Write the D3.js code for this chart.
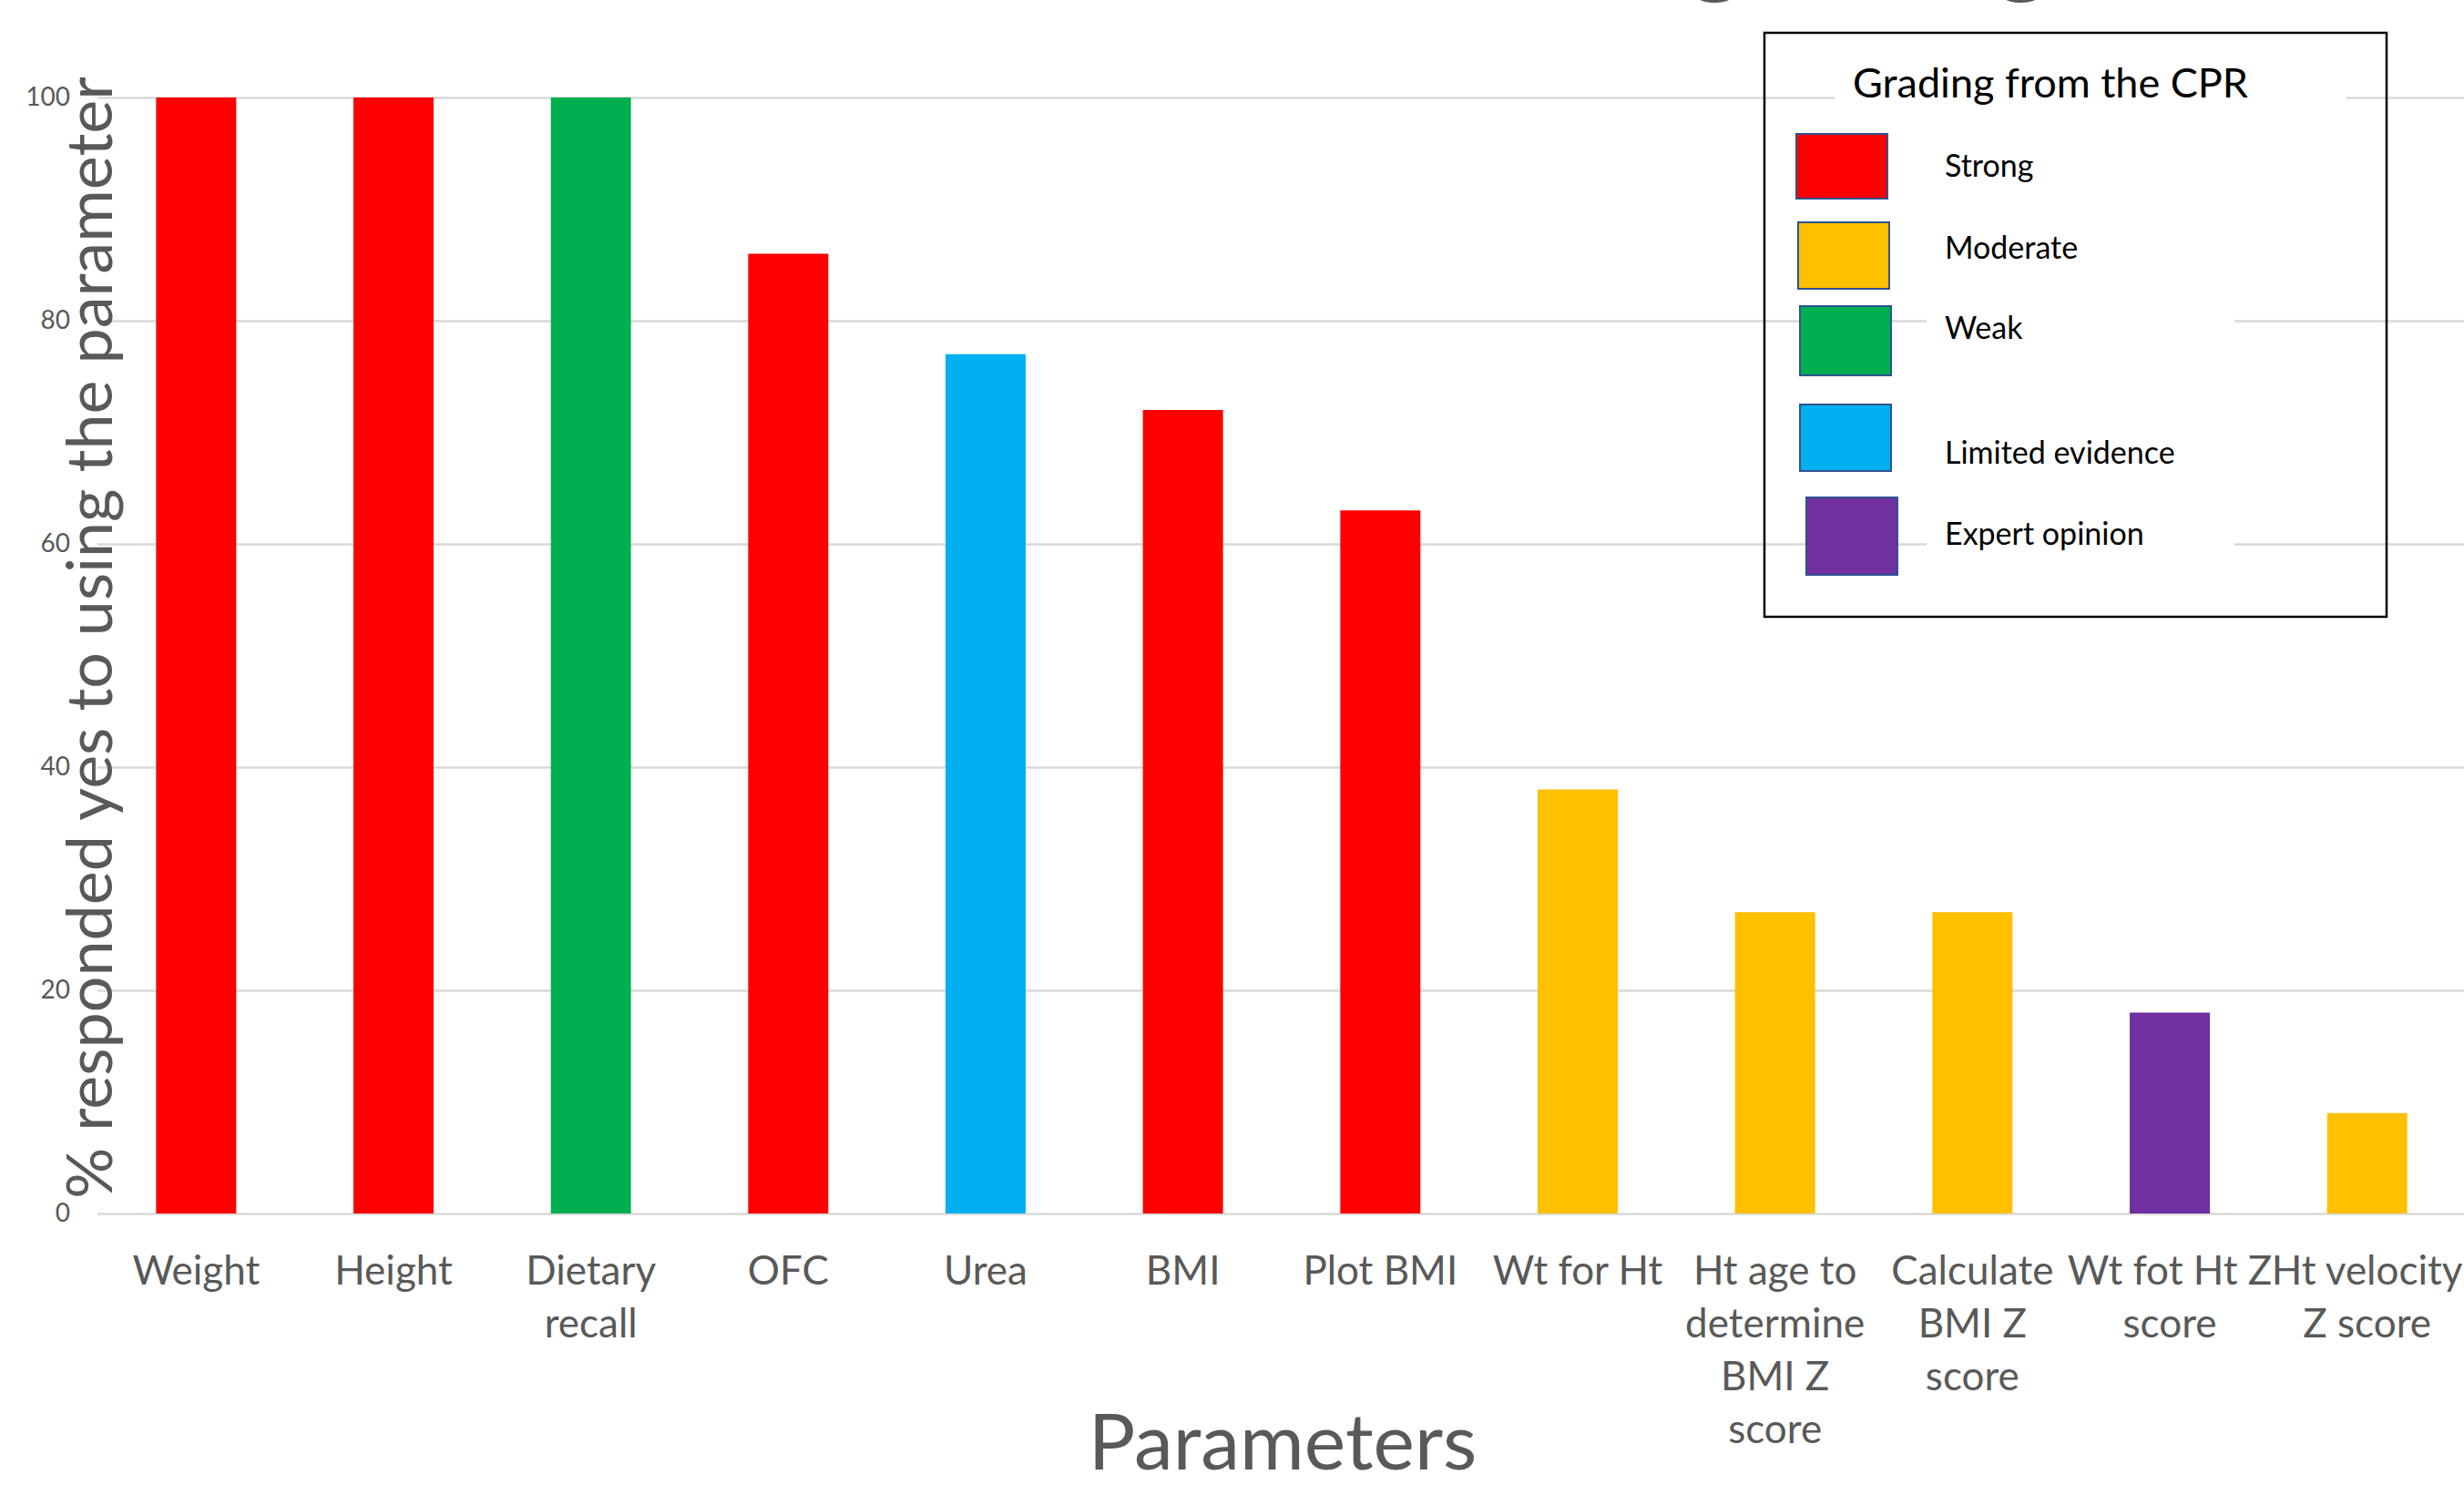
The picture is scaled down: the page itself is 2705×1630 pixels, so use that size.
<!DOCTYPE html>
<html>
<head>
<meta charset="utf-8">
<script src="https://cdn.jsdelivr.net/npm/d3@7"></script>
<style>
  body { margin: 0; background: #fff; overflow: hidden; }
  text { font-family: Lato, "Noto Sans", sans-serif; }
</style>
</head>
<body>
<div id="chart"></div>
<script>
// chart data
var categories = ["Weight", "Height", "Dietary recall", "OFC", "Urea", "BMI", "Plot BMI",
  "Wt for Ht", "Ht age to determine BMI Z score", "Calculate BMI Z score",
  "Wt fot Ht Z score", "Ht velocity Z score"];
var tickLabels = [["Weight"], ["Height"], ["Dietary", "recall"], ["OFC"], ["Urea"], ["BMI"],
  ["Plot BMI"], ["Wt for Ht"], ["Ht age to", "determine", "BMI Z", "score"],
  ["Calculate", "BMI Z", "score"], ["Wt fot Ht Z", "score"], ["Ht velocity", "Z score"]];
var values = [100, 100, 100, 86, 77, 72, 63, 38, 27, 27, 18, 9];
var grades = ["Strong", "Strong", "Weak", "Strong", "Limited evidence", "Strong", "Strong",
  "Moderate", "Moderate", "Moderate", "Expert opinion", "Moderate"];
var gradeNames = ["Strong", "Moderate", "Weak", "Limited evidence", "Expert opinion"];
var gradeColors = ["#FF0000", "#FFC000", "#00B050", "#00B0F0", "#7030A0"];
var yTicks = [0, 20, 40, 60, 80, 100];

var W = 2705, H = 1630;
var margin = {top: 107, right: -2, bottom: 298, left: 107};
var width = W - margin.left - margin.right,
    height = H - margin.top - margin.bottom;

var svg = d3.select("#chart")
  .append("svg")
    .attr("width", W)
    .attr("height", H);

var g = svg.append("g")
    .attr("transform", "translate(" + margin.left + "," + margin.top + ")");

var color = d3.scaleOrdinal().domain(gradeNames).range(gradeColors);

// title sits above the picture, only the descenders of "grading" show
var title = svg.append("text")
  .attr("fill", "#595959")
  .style("font-size", "100px")
  .text("grading");
var node = title.node();
var gap = node.getStartPositionOfChar(6).x - node.getStartPositionOfChar(0).x;
var fs = 100 * 336 / gap;
title.style("font-size", fs + "px")
  .attr("x", 1852)
  .attr("y", -19);

// y scale + gridlines
var y = d3.scaleLinear().domain([0, 100]).range([height, 0]);
var yAxis = g.append("g")
  .call(d3.axisLeft(y).tickValues(yTicks).tickSize(-width).tickPadding(30));
yAxis.select(".domain").remove();
yAxis.selectAll("line").attr("stroke", "#D9D9D9").attr("stroke-width", 2.5);
yAxis.selectAll("text")
  .attr("fill", "#595959")
  .style("font-size", "28px");

// x scale
var x = d3.scaleBand()
  .domain(categories)
  .range([0, width])
  .paddingInner(0.594)
  .paddingOuter(0.297);

var xAxis = g.append("g")
  .attr("transform", "translate(0," + height + ")")
  .call(d3.axisBottom(x).tickSize(0).tickFormat(""));
xAxis.select(".domain").remove();
xAxis.selectAll(".tick").each(function(d, i) {
  var t = d3.select(this).append("text")
    .attr("fill", "#595959")
    .attr("text-anchor", "middle")
    .style("font-size", "44px");
  tickLabels[i].forEach(function(line, j) {
    t.append("tspan").attr("x", 0).attr("y", 78 + j * 58).text(line);
  });
});

// bars
g.selectAll("rect.bar")
  .data(values)
  .enter()
  .append("rect")
    .attr("class", "bar")
    .attr("x", function(d, i) { return x(categories[i]); })
    .attr("y", function(d) { return y(d); })
    .attr("width", x.bandwidth())
    .attr("height", function(d) { return height - y(d); })
    .attr("fill", function(d, i) { return color(grades[i]); });

// axis titles
svg.append("text")
  .attr("transform", "translate(123," + 700 + ")rotate(-90)")
  .attr("text-anchor", "middle")
  .attr("fill", "#595959")
  .style("font-size", "70px")
  .text("% responded yes to using the parameter");

svg.append("text")
  .attr("x", 1408)
  .attr("y", 1613)
  .attr("text-anchor", "middle")
  .attr("fill", "#595959")
  .style("font-size", "86px")
  .text("Parameters");

// legend (drawn as an overlay box like the original slide)
var lx = 1937, ly = 36, lw = 683, lh = 641;
var legend = svg.append("g");
legend.append("rect")
  .attr("x", lx).attr("y", ly).attr("width", lw).attr("height", lh)
  .attr("fill", "none").attr("stroke", "#000").attr("stroke-width", 2.5);
legend.append("rect")
  .attr("x", 2014).attr("y", 66).attr("width", 562).attr("height", 66)
  .attr("fill", "#fff");
legend.append("text")
  .attr("x", 2034).attr("y", 107)
  .attr("fill", "#000")
  .style("font-size", "45px")
  .text("Grading from the CPR");

var swatchLeft = [1972, 1974, 1976, 1976, 1983];
var swatchTops = [147, 244, 336, 444, 546];
var swatchH = [71, 73, 76, 73, 85];
var labelBase = [194, 284, 372, 509, 598];
gradeNames.forEach(function(name, i) {
  legend.append("rect")
    .attr("x", swatchLeft[i]).attr("y", swatchTops[i])
    .attr("width", 100).attr("height", swatchH[i])
    .attr("fill", color(name))
    .attr("stroke", "#2F528F").attr("stroke-width", 2);
  legend.append("rect")
    .attr("x", 2115).attr("y", labelBase[i] - 40)
    .attr("width", 338).attr("height", 56)
    .attr("fill", "#fff");
  legend.append("text")
    .attr("x", 2135).attr("y", labelBase[i])
    .attr("fill", "#000")
    .style("font-size", "34px")
    .text(name);
});
</script>
</body>
</html>
